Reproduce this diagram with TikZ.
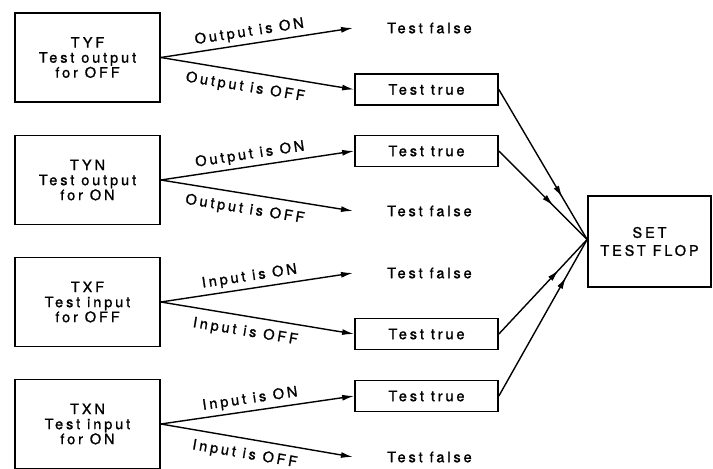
\documentclass[tikz,border=0pt]{standalone}
\usepackage{fontspec}
\setmainfont{TeX Gyre Heros}[LetterSpace=20,FakeBold=1.2]
\usetikzlibrary{arrows.meta,decorations.markings}
\tikzset{
  every node/.style={font=\fontsize{14.5}{15}\selectfont},
  src/.style={draw, line width=1.7pt, minimum width=145pt, minimum height=89pt, align=center, inner sep=0pt},
  ttbox/.style={draw, line width=1.7pt, minimum width=143pt, minimum height=31pt, inner sep=0pt},
  tfalse/.style={anchor=west, inner sep=0pt},
  arr/.style={line width=1.4pt, -{Latex[length=12pt,width=6pt]}},
  labup/.style={sloped, anchor=south, inner sep=4pt},
  labdn/.style={sloped, anchor=north, inner sep=8pt},
  midarr/.style={line width=1.4pt, postaction={decorate},
    decoration={markings, mark=at position #1 with {\arrow{Latex[length=12pt,width=6pt]}}}}
}
\begin{document}
\begin{tikzpicture}[x=1pt,y=-1pt]
\useasboundingbox (0,0) rectangle (713,469);

% source boxes
\node[src] (tyf) at (87.5,57.5) {TYF\\Test output\\for OFF};
\node[src] (tyn) at (87.5,180) {TYN\\Test output\\for ON};
\node[src] (txf) at (87.5,302) {TXF\\Test input\\for OFF};
\node[src] (txn) at (87.5,424) {TXN\\Test input\\for ON};

% test true boxes
\node[ttbox] (t1) at (426.5,89.5) {Test true};
\node[ttbox] (t2) at (426.5,151) {Test true};
\node[ttbox] (t3) at (426.5,334) {Test true};
\node[ttbox] (t4) at (426.5,396) {Test true};

% test false texts
\node[tfalse] (tf1) at (387,28) {Test false};
\node[tfalse] (tf2) at (387,211) {Test false};
\node[tfalse] (tf3) at (387,273) {Test false};
\node[tfalse] (tf4) at (387,457) {Test false};
\coordinate (f1) at (353,28);
\coordinate (f2) at (353,211);
\coordinate (f3) at (353,273);
\coordinate (f4) at (353,457);

% set test flop
\node[draw, line width=1.7pt, minimum width=123pt, minimum height=91pt, align=center, inner sep=0pt] (set) at (649.5,241.5) {SET\\[3pt]TEST FLOP};
\coordinate (cv) at ([yshift=2pt]set.west);

% branches
\draw[arr] (tyf.east) -- node[labup,pos=.47] {Output is ON} (f1);
\draw[arr] (tyf.east) -- node[labdn,pos=.45] {Output is OFF} (t1.west);
\draw[arr] (tyn.east) -- node[labup,pos=.47] {Output is ON} (t2.west);
\draw[arr] (tyn.east) -- node[labdn,pos=.45] {Output is OFF} (f2);
\draw[arr] (txf.east) -- node[labup,pos=.47] {Input is ON} (f3);
\draw[arr] (txf.east) -- node[labdn,pos=.45] {Input is OFF} (t3.west);
\draw[arr] (txn.east) -- node[labup,pos=.47] {Input is ON} (t4.west);
\draw[arr] (txn.east) -- node[labdn,pos=.45] {Input is OFF} (f4);

% to set test flop
\draw[midarr=0.72] (t1.east) -- (cv);
\draw[midarr=0.62] (t2.east) -- (cv);
\draw[midarr=0.68] (t3.east) -- (cv);
\draw[midarr=0.76] (t4.east) -- (cv);
\end{tikzpicture}
\end{document}
